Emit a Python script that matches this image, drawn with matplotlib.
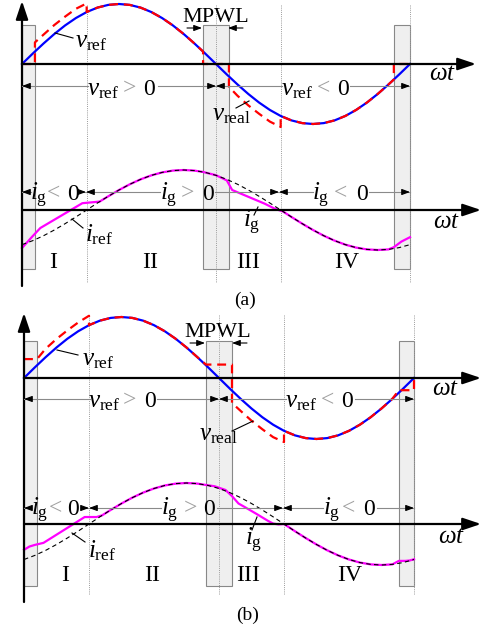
import matplotlib
matplotlib.use("Agg")
import matplotlib.pyplot as plt
import matplotlib.transforms as mtransforms
from matplotlib.patches import Rectangle, FancyArrowPatch

plt.rcParams["font.family"] = ["Liberation Serif", "DejaVu Serif"]
plt.rcParams["mathtext.fontset"] = "custom"
plt.rcParams["mathtext.rm"] = "Liberation Serif"
plt.rcParams["mathtext.it"] = "Liberation Serif:italic"
plt.rcParams["mathtext.bf"] = "Liberation Serif:bold"

# ---------------- waveform data (angle in degrees over one grid period) ----------------
angle = [0, 10, 20, 30, 40, 50, 60, 70, 80, 90, 100, 110, 120, 130, 140, 150, 160, 170, 180,
         190, 200, 210, 220, 230, 240, 250, 260, 270, 280, 290, 300, 310, 320, 330, 340, 350, 360]
v_ref = [0.000, 0.174, 0.342, 0.500, 0.643, 0.766, 0.866, 0.940, 0.985, 1.000, 0.985, 0.940, 0.866,
         0.766, 0.643, 0.500, 0.342, 0.174, 0.000, -0.174, -0.342, -0.500, -0.643, -0.766, -0.866,
         -0.940, -0.985, -1.000, -0.985, -0.940, -0.866, -0.766, -0.643, -0.500, -0.342, -0.174, 0.000]
i_ref = [-0.866, -0.766, -0.643, -0.500, -0.342, -0.174, 0.000, 0.174, 0.342, 0.500, 0.643, 0.766,
         0.866, 0.940, 0.985, 1.000, 0.985, 0.940, 0.866, 0.766, 0.643, 0.500, 0.342, 0.174, 0.000,
         -0.174, -0.342, -0.500, -0.643, -0.766, -0.866, -0.940, -0.985, -1.000, -0.985, -0.940, -0.866]

# panel (a): converter output voltage and grid current
a_vreal_ang = [0, 12, 12, 20, 30, 40, 50, 60, 60, 70, 80, 90, 100, 110, 120, 130, 140, 150, 160,
               168, 168, 192, 192, 200, 210, 220, 230, 240, 240, 250, 260, 270, 280, 290, 300, 310,
               320, 330, 340, 345, 345, 360]
a_vreal_val = [0.00, 0.00, 0.36, 0.49, 0.65, 0.79, 0.92, 1.01, 0.866, 0.940, 0.985, 1.000, 0.985,
               0.940, 0.866, 0.766, 0.643, 0.500, 0.342, 0.208, 0.00, 0.00, -0.38, -0.53, -0.69,
               -0.83, -0.96, -1.05, -0.866, -0.940, -0.985, -1.000, -0.985, -0.940, -0.866, -0.766,
               -0.643, -0.500, -0.342, -0.259, 0.00, 0.00]
a_ig_ang = [0, 9, 17, 56, 68, 72, 80, 90, 100, 110, 120, 130, 140, 150, 160, 168, 180, 190, 195,
            210, 225, 234, 238, 242, 250, 260, 270, 280, 290, 300, 310, 320, 330, 340, 345, 352, 360]
a_ig_val = [-0.95, -0.68, -0.45, 0.17, 0.20, 0.21, 0.342, 0.500, 0.643, 0.766, 0.866, 0.940, 0.985,
            1.000, 0.985, 0.951, 0.87, 0.74, 0.50, 0.33, 0.16, 0.04, 0.00, -0.035, -0.174, -0.342,
            -0.500, -0.643, -0.766, -0.866, -0.940, -0.985, -1.000, -0.985, -0.93, -0.79, -0.68]

# panel (b)
b_vreal_ang = [0, 12, 20, 30, 40, 50, 60, 60, 70, 80, 90, 100, 110, 120, 130, 140, 150, 160, 168,
               192, 192, 200, 210, 220, 230, 240, 240, 250, 260, 270, 280, 290, 300, 310, 320, 330,
               340, 346, 360, 360]
b_vreal_val = [0.31, 0.31, 0.48, 0.64, 0.78, 0.91, 1.02, 0.866, 0.940, 0.985, 1.000, 0.985, 0.940,
               0.866, 0.766, 0.643, 0.500, 0.342, 0.22, 0.22, -0.41, -0.54, -0.70, -0.84, -0.97,
               -1.05, -0.866, -0.940, -0.985, -1.000, -0.985, -0.940, -0.866, -0.766, -0.643,
               -0.500, -0.342, -0.20, -0.20, 0.00]
b_ig_ang = [0, 5, 10, 18, 56, 67, 72, 80, 90, 100, 110, 120, 130, 140, 150, 160, 167, 176, 186,
            192, 198, 204, 215, 225, 230, 235, 240, 250, 260, 270, 280, 290, 300, 310, 320, 330,
            340, 346, 352, 356, 360]
b_ig_val = [-0.63, -0.55, -0.51, -0.46, 0.17, 0.17, 0.21, 0.342, 0.500, 0.643, 0.766, 0.866, 0.940,
            0.985, 1.000, 0.985, 0.956, 0.92, 0.83, 0.68, 0.50, 0.41, 0.24, 0.08, 0.01, -0.01, 0.00,
            -0.174, -0.342, -0.500, -0.643, -0.766, -0.866, -0.940, -0.985, -1.000, -0.985, -0.90,
            -0.90, -0.89, -0.86]

# MPWL dead zones and sector boundaries (degrees)
a_zones = [(0, 12), (168, 192), (345, 360)]
b_zones = [(0, 12), (168, 192), (346, 360)]
sector_bounds = [60, 180, 240, 360]
sector_names = ["I", "II", "III", "IV"]

# ---------------- figure set-up ----------------
W, H = 485, 630
fig = plt.figure(figsize=(W / 100, H / 100), dpi=100)
fig.patch.set_facecolor("white")
# pixel coordinates, origin top-left
PX = mtransforms.Affine2D().scale(1.0 / W, -1.0 / H).translate(0, 1) + fig.transFigure

BLUE, RED, MAG = "#0000ff", "#ff0000", "#ff00ff"
GRAY = "#8a8a8a"


def wave_axes(x0, x360, base, amp):
    ax = fig.add_axes([0, 0, 1, 1])
    k = 360.0 / (x360 - x0)
    ax.set_xlim(-x0 * k, (W - x0) * k)
    ax.set_ylim((base - H) / amp, base / amp)
    ax.set_axis_off()
    ax.patch.set_visible(False)
    return ax


def arrow(x0, y0, x1, y1, lw=1.6, hl=11.0, hw=3.7, color="black", z=6, style="-|>"):
    p = FancyArrowPatch(posA=(x0, y0), posB=(x1, y1),
                        arrowstyle=f"{style},head_length={hl},head_width={hw}",
                        mutation_scale=1, lw=lw, color=color, shrinkA=0, shrinkB=0,
                        transform=PX, zorder=z)
    fig.add_artist(p)


def seg(x0, y0, x1, y1, lw=0.8, color="black", z=6):
    fig.add_artist(plt.Line2D([x0, x1], [y0, y1], lw=lw, color=color, transform=PX, zorder=z))


def small_head(x, y, direction):
    # direction: +1 -> pointing right, -1 -> pointing left
    arrow(x - 7 * direction, y, x, y, lw=0.8, hl=4.8, hw=1.8)


def txt(x, y, s, size=16, ha="center", va="baseline", color="black", **kw):
    fig.text(x, y, s, transform=PX, fontsize=size, ha=ha, va=va, color=color, zorder=8, **kw)


def dim_line(xl, xr, y, gap, pieces, base):
    seg(xl, y, gap[0], y, lw=0.8, color=GRAY)
    seg(gap[1], y, xr, y, lw=0.8, color=GRAY)
    small_head(xl, y, -1)
    small_head(xr, y, +1)
    var, sign, zero = pieces
    txt(var[1], base, var[0], size=18)
    txt(sign[1], base - 1, sign[0], size=17, color="#a0a0a0")
    txt(zero[1], base, "0", size=17)


VR = r"$v_{\mathrm{ref}}$"
IG = r"$i_{\mathrm{g}}$"


def panel(P, vreal_ang, vreal_val, ig_ang, ig_val, zones, L):
    axv = wave_axes(P["x0"], P["x360"], P["vbase"], P["vamp"])
    axi = wave_axes(P["x0"], P["x360"], P["ibase"], P["iamp"])
    bt = mtransforms.blended_transform_factory(axv.transData, PX)

    # MPWL shaded zones
    for a0, a1 in zones:
        axv.add_patch(Rectangle((a0, P["rect"][1]), a1 - a0, P["rect"][0] - P["rect"][1],
                                transform=bt, facecolor="#efefef", edgecolor="#888888",
                                lw=0.8, zorder=1))
    # sector boundaries
    for b in sector_bounds:
        axv.plot([b, b], list(P["dot"]), transform=bt, color="#9a9a9a", lw=0.7,
                 ls=(0, (1, 1.2)), zorder=2)

    # axes with arrows
    x0 = P["x0"]
    arrow(x0, P["yaxis"][0], x0, P["yaxis"][1], lw=1.6)
    arrow(x0, P["vbase"], P["vtip"], P["vbase"], lw=1.6)
    arrow(x0, P["ibase"], P["itip"], P["ibase"], lw=1.6)

    # voltage waveforms
    axv.plot(angle, v_ref, color=BLUE, lw=1.6, zorder=4, solid_joinstyle="round")
    axv.plot(vreal_ang, vreal_val, color=RED, lw=1.6, ls=(0, (4, 2.6)), zorder=5)
    # current waveforms
    axi.plot(ig_ang, ig_val, color=MAG, lw=1.6, zorder=4, solid_joinstyle="round")
    axi.plot(angle, i_ref, color="black", lw=0.8, ls=(0, (4, 3)), zorder=5)

    # MPWL label
    txt(L["mpwl"][0], L["mpwl"][1], "MPWL", size=16)
    ya = L["mpwl_arrow"]
    arrow(L["mpwl_l"][0], ya, L["mpwl_l"][1], ya, lw=0.8, hl=4.8, hw=1.8)
    arrow(L["mpwl_r"][0], ya, L["mpwl_r"][1], ya, lw=0.8, hl=4.8, hw=1.8)

    # waveform labels with leader lines
    for (s, x, y, lx0, ly0, lx1, ly1) in L["leaders"]:
        txt(x, y, s, size=18, ha="left")
        seg(lx0, ly0, lx1, ly1, lw=0.8)

    # omega t labels
    for (x, y) in L["wt"]:
        txt(x, y, r"$\omega t$", size=18, ha="left")

    # dimension lines
    for d in L["dims"]:
        dim_line(*d)

    # sector names
    for name, x in zip(sector_names, L["sect_x"]):
        txt(x, L["sect_y"], name, size=17)

    txt(L["tag"][0], L["tag"][1], L["tag"][2], size=14)


PA = dict(x0=22, x360=410, vbase=64, vamp=60, ibase=210, iamp=40,
          rect=(25, 269), dot=(5, 282), yaxis=(286, 1), vtip=476, itip=481)
PB = dict(x0=24, x360=414, vbase=378, vamp=61, ibase=524, iamp=41,
          rect=(341, 586), dot=(315, 595), yaxis=(602, 313), vtip=481, itip=481)

LA = dict(
    mpwl=(216, 22), mpwl_arrow=28, mpwl_l=(187, 202), mpwl_r=(243, 228),
    leaders=[(VR, 75, 47, 55, 33, 73, 38),
             (r"$v_{\mathrm{real}}$", 212, 120, 236, 108, 249, 101),
             (r"$i_{\mathrm{ref}}$", 85, 241, 72, 219, 83, 228),
             (IG, 243, 227, 258, 207, 254, 215)],
    wt=[(429, 80), (433, 228)],
    dims=[(22, 216, 86, (88, 158), ((VR, 103.5), (">", 129), ("0", 149.5)), 95),
          (216, 410, 86, (282, 350), ((VR, 297), ("<", 323.5), ("0", 343)), 95),
          (22, 86, 192, (31, 79), ((IG, 38.5), ("<", 54), ("0", 73)), 200),
          (86, 279, 192, (160, 215), ((IG, 168.5), (">", 187.5), ("0", 208)), 200),
          (279, 410, 192, (313, 369), ((IG, 321), ("<", 341), ("0", 362)), 200)],
    sect_x=[53, 150, 248, 347], sect_y=268,
    tag=(245, 305, "(a)"),
)

LB = dict(
    mpwl=(218, 337), mpwl_arrow=343, mpwl_l=(190, 205), mpwl_r=(247, 232),
    leaders=[(VR, 82, 365, 57, 350, 78, 355),
             (r"$v_{\mathrm{real}}$", 199, 440, 232, 431, 253, 421),
             (r"$i_{\mathrm{ref}}$", 88, 557, 72, 533, 85, 542),
             (IG, 245, 545, 257, 517, 252, 530)],
    wt=[(432, 395), (438, 543)],
    dims=[(24, 219, 399, (90, 157), ((VR, 104.5), (">", 129), ("0", 150)), 407),
          (219, 414, 399, (286, 355), ((VR, 301.5), ("<", 327.5), ("0", 347.5)), 407),
          (24, 89, 508, (31, 81), ((IG, 40), ("<", 56), ("0", 73.5)), 515),
          (89, 283, 508, (161, 217), ((IG, 170), (">", 190), ("0", 209.5)), 515),
          (283, 414, 508, (323, 377), ((IG, 331.5), ("<", 349), ("0", 369)), 515)],
    sect_x=[65, 152, 248, 350], sect_y=581,
    tag=(248, 620, "(b)"),
)

panel(PA, a_vreal_ang, a_vreal_val, a_ig_ang, a_ig_val, a_zones, LA)
panel(PB, b_vreal_ang, b_vreal_val, b_ig_ang, b_ig_val, b_zones, LB)

fig.savefig("out.png", dpi=100)
